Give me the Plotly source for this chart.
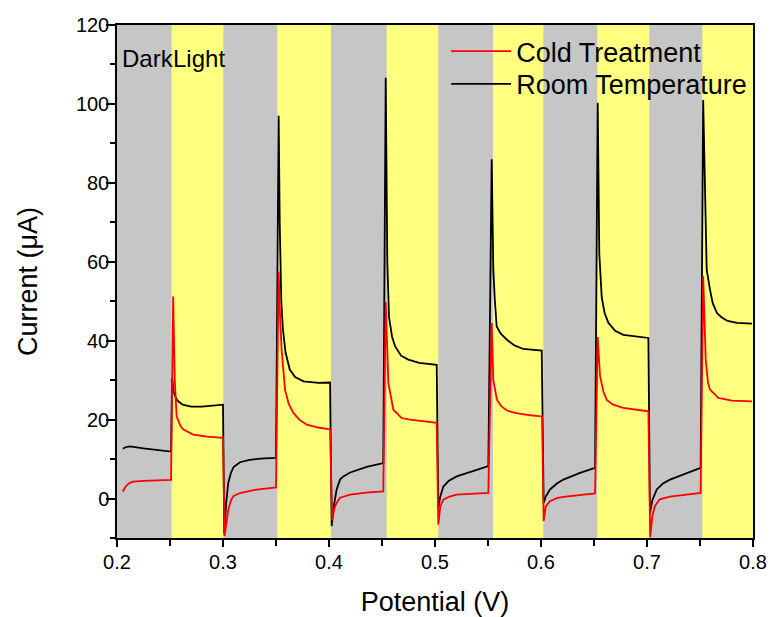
import plotly.graph_objects as go

# ---------------- data ----------------
light_start = [0.2515, 0.3512, 0.4544, 0.5547, 0.6531, 0.7522]
light_end = [0.3003, 0.4019, 0.5031, 0.6022, 0.7022, 0.8000]

rt_x = [0.2055, 0.2080, 0.2120, 0.2160, 0.2250, 0.2350, 0.2450, 0.2510,
        0.2520, 0.2535, 0.2560, 0.2580, 0.2620, 0.2700, 0.2800, 0.2900, 0.3000,
        0.3012, 0.3030, 0.3050, 0.3075, 0.3100, 0.3160, 0.3250, 0.3350, 0.3500,
        0.3525, 0.3535, 0.3550, 0.3565, 0.3590, 0.3630, 0.3680, 0.3760, 0.3900, 0.4010,
        0.4025, 0.4045, 0.4072, 0.4104, 0.4135, 0.4200, 0.4356, 0.4512,
        0.4535, 0.4550, 0.4566, 0.4595, 0.4623, 0.4680, 0.4748, 0.4850, 0.5016,
        0.5031, 0.5050, 0.5078, 0.5130, 0.5205, 0.5362, 0.5503,
        0.5535, 0.5550, 0.5565, 0.5582, 0.5620, 0.5676, 0.5750, 0.5833, 0.6007,
        0.6025, 0.6045, 0.6085, 0.6150, 0.6211, 0.6368, 0.6510,
        0.6535, 0.6550, 0.6573, 0.6600, 0.6636, 0.6700, 0.6777, 0.6900, 0.7013,
        0.7028, 0.7050, 0.7092, 0.7150, 0.7217, 0.7374, 0.7506,
        0.7530, 0.7550, 0.7563, 0.7594, 0.7620, 0.7660, 0.7700, 0.7760, 0.7850, 0.7990]
rt_y = [12.6, 13.0, 13.2, 13.1, 12.7, 12.4, 12.1, 11.9,
        30.6, 27.0, 25.2, 24.6, 23.8, 23.3, 23.3, 23.6, 23.8,
        -9.0, -1.0, 4.0, 6.5, 8.0, 9.2, 9.8, 10.1, 10.3,
        97.0, 70.0, 50.0, 43.0, 37.0, 32.7, 30.8, 29.7, 29.3, 29.4,
        -7.0, -2.0, 2.3, 4.8, 5.6, 6.6, 8.0, 9.0,
        106.6, 60.0, 46.0, 41.0, 38.6, 36.2, 35.2, 34.4, 33.9,
        -2.4, 0.5, 3.0, 4.5, 5.6, 6.9, 8.2,
        86.0, 58.0, 50.0, 43.6, 41.8, 40.3, 38.8, 37.9, 37.5,
        -1.1, 0.5, 2.3, 3.8, 4.8, 6.5, 7.8,
        100.3, 62.0, 51.0, 47.0, 44.5, 42.5, 41.5, 41.0, 40.7,
        -3.6, -0.5, 2.3, 3.8, 4.8, 6.5, 7.8,
        101.0, 70.0, 58.0, 53.0, 49.5, 47.0, 46.0, 45.0, 44.5, 44.3]

ct_x = [0.2055, 0.2080, 0.2110, 0.2150, 0.2250, 0.2400, 0.2510,
        0.2530, 0.2545, 0.2563, 0.2600, 0.2626, 0.2720, 0.2850, 0.3000,
        0.3015, 0.3035, 0.3050, 0.3075, 0.3097, 0.3160, 0.3300, 0.3500,
        0.3525, 0.3540, 0.3553, 0.3585, 0.3620, 0.3664, 0.3720, 0.3790, 0.3900, 0.4010,
        0.4030, 0.4050, 0.4072, 0.4104, 0.4200, 0.4350, 0.4512,
        0.4535, 0.4550, 0.4560, 0.4607, 0.4639, 0.4686, 0.4764, 0.4900, 0.5016,
        0.5031, 0.5050, 0.5078, 0.5130, 0.5205, 0.5350, 0.5503,
        0.5535, 0.5550, 0.5585, 0.5625, 0.5680, 0.5755, 0.5900, 0.6010,
        0.6025, 0.6045, 0.6085, 0.6150, 0.6211, 0.6400, 0.6510,
        0.6535, 0.6557, 0.6590, 0.6620, 0.6680, 0.6777, 0.6900, 0.7013,
        0.7030, 0.7050, 0.7075, 0.7120, 0.7217, 0.7374, 0.7506,
        0.7530, 0.7554, 0.7575, 0.7594, 0.7673, 0.7800, 0.7990]
ct_y = [1.8, 3.0, 3.8, 4.3, 4.5, 4.6, 4.7,
        51.2, 30.0, 20.8, 18.3, 17.5, 16.2, 15.7, 15.4,
        -9.5, -5.0, -2.8, -0.5, 0.6, 1.4, 2.2, 2.8,
        57.5, 45.0, 37.7, 27.6, 24.0, 21.7, 20.0, 18.7, 18.0, 17.5,
        -5.5, -2.5, -1.1, 0.2, 1.0, 1.5, 1.8,
        49.8, 38.0, 29.3, 22.5, 21.7, 20.4, 20.0, 19.5, 19.2,
        -6.6, -2.0, -0.3, 0.4, 1.0, 1.2, 1.4,
        44.5, 30.0, 25.0, 23.4, 22.3, 21.7, 21.1, 20.8,
        -5.7, -2.0, -0.7, 0.1, 0.4, 1.0, 1.3,
        40.9, 31.0, 27.0, 25.0, 23.8, 23.0, 22.5, 22.1,
        -9.8, -4.5, -1.9, -0.2, 0.5, 1.0, 1.4,
        56.3, 35.2, 29.5, 27.6, 25.5, 24.8, 24.6]

x_ticks = [0.2, 0.3, 0.4, 0.5, 0.6, 0.7, 0.8]
y_ticks = [0, 20, 40, 60, 80, 100, 120]

FONT = "Liberation Sans, Arial, sans-serif"
GRAY = "#C6C6C6"
YELLOW = "#FFFF80"

fig = go.Figure()
fig.add_trace(go.Scatter(x=rt_x, y=rt_y, mode="lines", name="Room Temperature",
                         line=dict(color="black", width=1.8), legend="legend2"))
fig.add_trace(go.Scatter(x=ct_x, y=ct_y, mode="lines", name="Cold Treatment",
                         line=dict(color="#FF0000", width=1.8), legend="legend"))

for s, e in zip(light_start, light_end):
    fig.add_shape(type="rect", xref="x", yref="paper", x0=s, x1=e, y0=0, y1=1,
                  fillcolor=YELLOW, line=dict(width=0), layer="below")

fig.add_annotation(x=0.2030, y=111.5, xref="x", yref="y", text="Dark",
                   showarrow=False, xanchor="left", yanchor="middle",
                   font=dict(family=FONT, size=24, color="black"))
fig.add_annotation(x=0.2510, y=111.5, xref="x", yref="y", text="Light",
                   showarrow=False, xanchor="left", yanchor="middle",
                   font=dict(family=FONT, size=24, color="black"))

axis_common = dict(showline=True, linecolor="black", linewidth=1.5, mirror=True,
                   ticks="outside", tickwidth=1.5, tickcolor="black",
                   showgrid=False, zeroline=False, automargin=False,
                   tickfont=dict(family=FONT, size=20, color="black"))

fig.update_xaxes(range=[0.2, 0.8], tickvals=x_ticks, ticktext=[f"{v:.1f}" for v in x_ticks],
                 ticklen=7, ticklabelstandoff=-2,
                 minor=dict(ticks="outside", ticklen=6, tickwidth=1.5, tickcolor="black",
                            dtick=0.05, tick0=0.2, showgrid=False),
                 title=dict(text="Potential (V)", font=dict(family=FONT, size=27, color="black"),
                            standoff=25),
                 **axis_common)
fig.update_yaxes(range=[-10, 120], tickvals=y_ticks, ticktext=[str(v) for v in y_ticks],
                 ticklen=9, ticklabelstandoff=-7,
                 minor=dict(ticks="outside", ticklen=5, tickwidth=1.5, tickcolor="black",
                            dtick=10, tick0=0, showgrid=False),
                 title=dict(text="Current (μA)", font=dict(family=FONT, size=27, color="black"),
                            standoff=30),
                 **axis_common)

legend_common = dict(xanchor="left", yanchor="top", bgcolor="rgba(0,0,0,0)",
                     borderwidth=0, itemwidth=60,
                     font=dict(family=FONT, size=27, color="black"))

fig.update_layout(
    width=771, height=617,
    margin=dict(l=117, r=18, t=25, b=79, autoexpand=False),
    paper_bgcolor="white", plot_bgcolor=GRAY,
    font=dict(family=FONT, color="black"),
    showlegend=True,
    legend=dict(x=0.5175, y=0.996, **legend_common),
    legend2=dict(x=0.5175, y=0.932, **legend_common),
)

fig.write_html("out.html")
